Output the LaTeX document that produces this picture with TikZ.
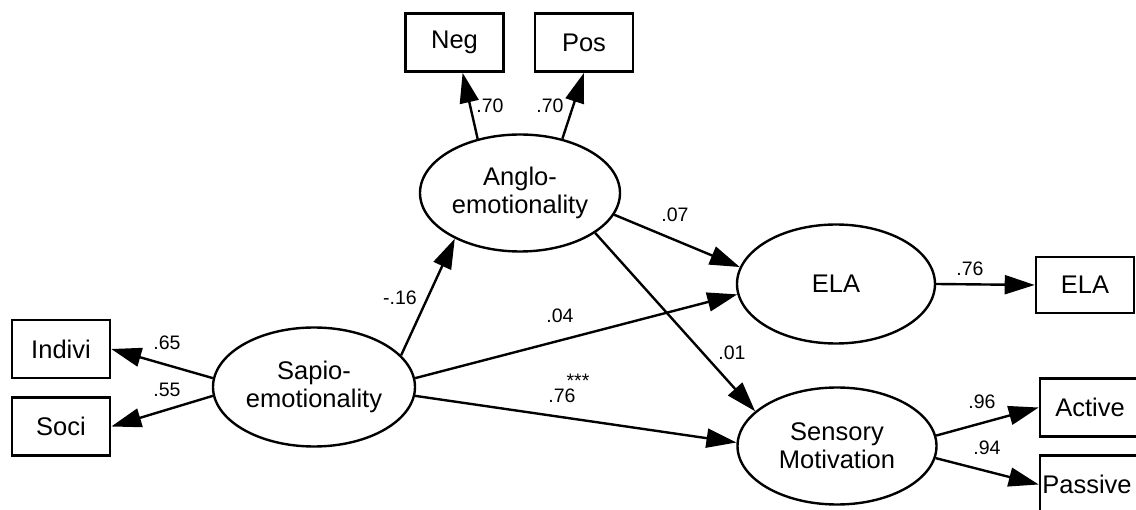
\documentclass[tikz,border=0pt]{standalone}
\usepackage{fontspec}
\setmainfont{Liberation Sans}
\usetikzlibrary{shapes.geometric,arrows.meta}
\begin{document}
\begin{tikzpicture}[x=1pt,y=-1pt,
  obsbox/.style={draw,line width=2.6pt,minimum width=98pt,minimum height=58pt,inner sep=0pt,
    font=\fontsize{25.5}{28}\selectfont},
  latent/.style={ellipse,draw,line width=2.4pt,minimum width=200pt,minimum height=118pt,inner sep=0pt,
    align=center,font=\fontsize{25.5}{28}\selectfont},
  path/.style={line width=2.4pt,-{Triangle[length=30pt,width=19pt]}},
  coef/.style={anchor=base,inner sep=0pt,font=\fontsize{19.5}{22}\selectfont}]
\clip (0,0) rectangle (1136,510);
\fill[white] (0,0) rectangle (1136,510);
% observed
\node[obsbox] (indivi) at (61,349) {Indivi};
\node[obsbox] (soci) at (61,426.5) {Soci};
\node[obsbox] (neg) at (454.5,42.5) {Neg};
\node[obsbox] (pos) at (584,42.5) {Pos};
\node[obsbox,minimum height=56pt] (elabox) at (1085,285) {ELA};
\node[obsbox,minimum width=100pt] (active) at (1090,407.5) {Active};
\node[obsbox,minimum width=100pt] (passive) at (1090,484.5) {\hspace*{-3pt}Passive\hspace*{3pt}};
% latent
\node[latent,minimum width=202pt,minimum height=119pt] (sapio) at (314,387) {Sapio-\\emotionality};
\node[latent,minimum height=117pt] (anglo) at (520,193) {Anglo-\\emotionality};
\node[latent,minimum width=198pt,minimum height=119pt] (ela) at (836,284) {ELA};
\node[latent,minimum width=199pt,minimum height=117pt] (sensory) at (837,446) {Sensory\\Motivation};
% paths
\draw[path] (sapio.175) -- (indivi.east);
\draw[path] (sapio.185) -- (soci.east);
\draw[path] (sapio.20) -- (anglo.215);
\draw[path] (sapio.5) -- (ela.186);
\draw[path] (sapio.355) -- (sensory.178);
\draw[path] (anglo.128) -- (neg.-75);
\draw[path] (anglo.52) -- (pos.south);
\draw[path] (anglo.347) -- (ela.170);
\draw[path] (anglo.332) -- (sensory.157);
\draw[path] (ela.east) -- (elabox.west);
\draw[path] (sensory.6) -- (active.west);
\draw[path] (sensory.353) -- (passive.west);
% coefficients
\node[coef] (c1) at (167,350) {.65};
\node[coef] (c2) at (167,397) {.55};
\node[coef] (c3) at (400,305) {-.16};
\node[coef] (c4) at (560,323) {.04};
\node[coef] (c5) at (562,403) {.76};
\node[coef] (c6) at (578,388) {***};
\node[coef] (c7) at (490,113) {.70};
\node[coef] (c8) at (550,113) {.70};
\node[coef] (c9) at (675,222) {.07};
\node[coef] (c10) at (732,360) {.01};
\node[coef] (c11) at (970,276) {.76};
\node[coef] (c12) at (982,409) {.96};
\node[coef] (c13) at (987,455) {.94};
\end{tikzpicture}
\end{document}
